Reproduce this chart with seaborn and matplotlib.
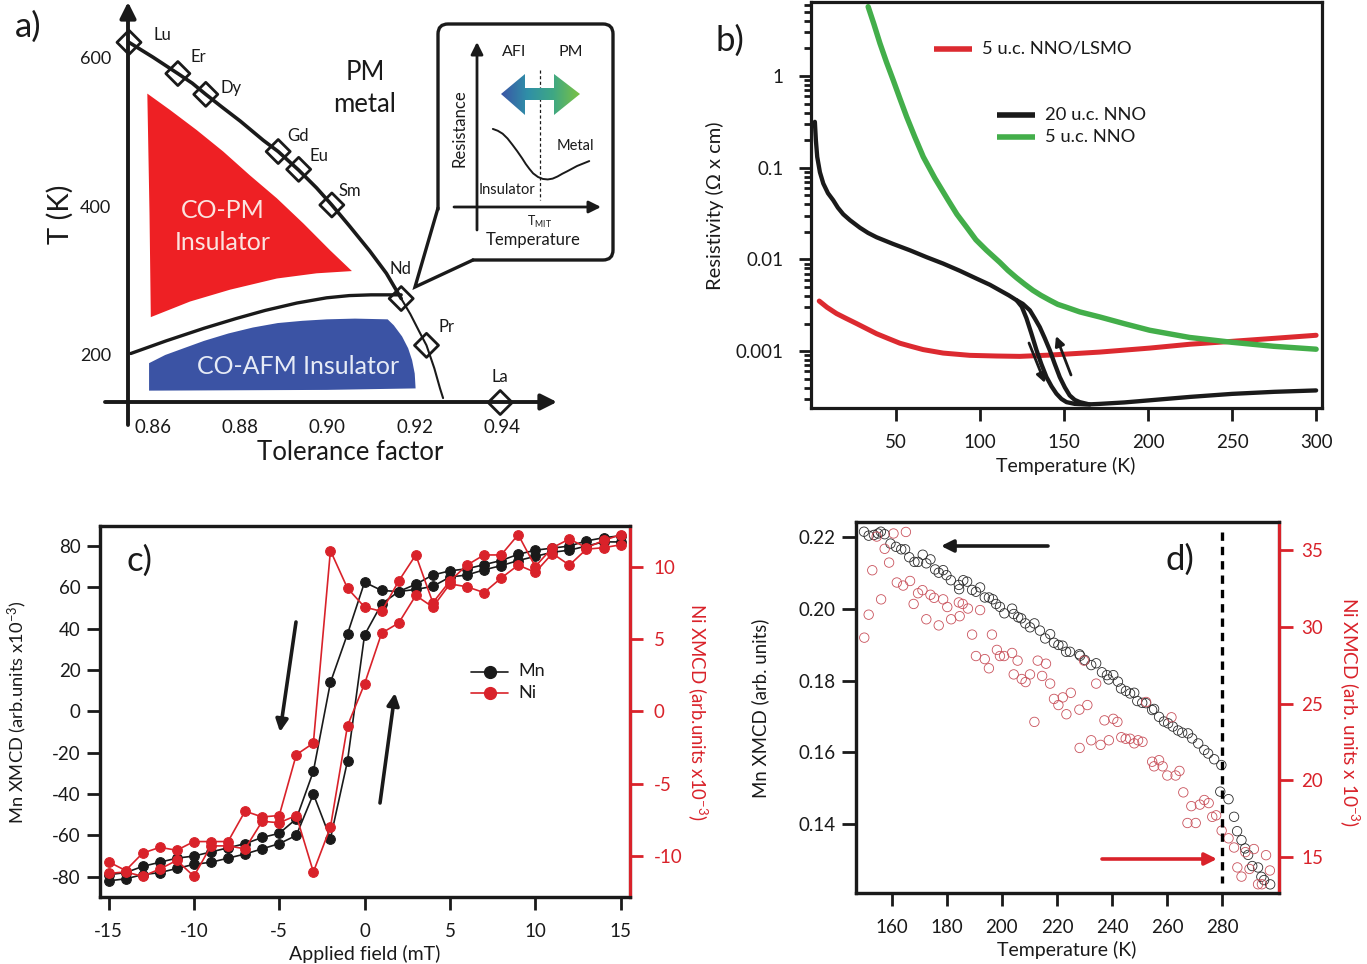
import numpy as np
import matplotlib
matplotlib.use('Agg')
import matplotlib.pyplot as plt
import seaborn as sns
from matplotlib.patches import FancyBboxPatch, Polygon
from matplotlib.ticker import NullFormatter, LogLocator

W, H = 1367, 964

# panel a: phase diagram
element_names = ['Lu', 'Er', 'Dy', 'Gd', 'Eu', 'Sm', 'Nd', 'Pr', 'La']
element_tf = [0.8545, 0.8657, 0.8721, 0.8887, 0.8934, 0.9010, 0.9169, 0.9227, 0.9396]
element_t = [621, 579, 551, 474, 450, 402, 276, 213, 136]
tn_tf = [0.8545, 0.8600, 0.8657, 0.8690, 0.8721, 0.8760, 0.8800, 0.8853, 0.8887, 0.8934, 0.8975, 0.9010, 0.9050, 0.9097, 0.9135, 0.9169]
tn_t = [621, 601, 579, 566, 551, 533, 515, 489, 474, 449, 425, 402, 374, 340, 310, 276]
tn_low_tf = [0.9169, 0.9190, 0.9210, 0.9227, 0.9245, 0.9258, 0.9265]
tn_low_t = [276, 255, 232, 213, 182, 155, 142]
afm_tf = [0.8549, 0.8630, 0.8717, 0.8790, 0.8857, 0.8930, 0.8998, 0.9050, 0.9100, 0.9169]
afm_t = [202, 219, 236, 249, 260, 270, 277, 280, 281, 281]
red_tf = [0.8587, 0.8639, 0.8700, 0.8761, 0.8822, 0.8884, 0.8945, 0.9006, 0.9056, 0.8975, 0.8884, 0.8777, 0.8685, 0.8595, 0.8592]
red_t = [552, 530, 503, 474, 442, 411, 377, 341, 313, 310, 303, 288, 272, 251, 391]
blue_tf = [0.8591, 0.8628, 0.8670, 0.8717, 0.8773, 0.8829, 0.8886, 0.8942, 0.8998, 0.9063, 0.9138, 0.9152, 0.9171, 0.9185, 0.9194, 0.9200, 0.9202, 0.8998, 0.8591]
blue_t = [189, 200, 209, 219, 229, 237, 243, 246, 248, 249, 248, 240, 225, 209, 193, 175, 155, 153, 152]
inset_temp = [0.13, 0.17, 0.21, 0.25, 0.29, 0.33, 0.37, 0.40, 0.43, 0.46, 0.50, 0.54, 0.58, 0.62, 0.66, 0.70, 0.74, 0.78, 0.82, 0.86, 0.92]
inset_res = [0.476, 0.465, 0.447, 0.418, 0.380, 0.340, 0.297, 0.262, 0.232, 0.205, 0.183, 0.171, 0.168, 0.173, 0.186, 0.203, 0.218, 0.234, 0.250, 0.262, 0.280]

# panel b: resistivity
nno20_cool_t = [1.8, 2.4, 3.2, 4.8, 6.8, 9.6, 12.7, 15.5, 18.7, 22.7, 28.6, 33.4, 38.5, 48.2, 58.3, 68.4, 78.1, 88, 98, 105.9, 111.8, 117.2, 121.8, 124.9, 127.7, 130.6,
                133.7, 136.6, 139.6, 142.6, 145.5, 148.5, 151.5, 156.4, 163.4, 171.3, 186, 200, 225, 250, 275, 300]
nno20_cool_r = [.317, .200, .1315, .0895, .0674, .0528, .0443, .0367, .0311, .0268, .0222, .0195, .01747, .0148, .0126, .01057, .00902, .00753, .00618, .00530, .00461, .00406, .00359, .00305, .00228, .00156,
                .00102, .000718, .000521, .000413, .000344, .000301, .000278, .000266, .000262, .000266, .000276, .00029, .000317, .000342, .00036, .000373]
nno20_warm_t = [121.8, 125.5, 129.7, 132.6, 135.6, 138.6, 141.6, 144.5, 147.5, 150.5, 153.4, 156.4, 159.4, 165.3]
nno20_warm_r = [.00359, .00328, .00279, .00228, .00183, .00138, .00102, .000726, .000521, .000403, .000329, .000294, .000278, .000262]
nno5_t = [33.5, 36.9, 40.5, 44.4, 48.4, 52.4, 56.4, 61.3, 66.3, 73.2, 81.1, 86.3, 92, 97.6, 103.9, 111.8, 116.6, 121.8, 126.7, 131.5, 136.3, 141.6, 146.3, 151.5, 159.4, 171.3, 186.1, 201, 224.8, 249.8, 274.7, 300]
nno5_r = [5.71, 3.70, 2.28, 1.42, .904, .568, .360, .216, .1315, .0769, .0443, .0311, .0226, .0164, .0126, .00931, .00762, .00631, .00536, .00461, .00406, .00359, .00324, .00301, .00268, .00236, .00199, .00169, .00141, .00125, .00113, .00105]
nno_lsmo_t = [4.4, 9, 14.7, 20.3, 26.6, 38.5, 45.2, 52.4, 58.9, 66.2, 78.1, 94, 109.9, 123.7, 141.6, 171.3, 201, 225, 250, 275, 300]
nno_lsmo_r = [.00352, .00301, .00257, .00228, .002, .00155, .00138, .00122, .00113, .00104, .000953, .0009, .000885, .000877, .000906, .000977, .00108, .00119, .00128, .00138, .00149]

# panel c: hysteresis loops
field = list(range(-15, 16))
mn_down = [-79, -78, -75, -73, -71, -70, -68, -66, -64, -61, -59, -52, -29, 14, 37.5, 62.5, 58.5, 58, 61.5, 66, 68, 69, 71, 73, 76, 78, 79, 80, 82.5, 84, 85]
mn_up = [-82, -81, -79, -78, -76, -74, -73, -71, -69, -66.5, -64, -60, -40, -61.5, -24, 37, 52, 58, 59, 60.5, 65, 66, 68.5, 70.5, 73, 75, 77, 78, 80, 82, 82]
ni_down = [-10.4, -11, -9.8, -9.4, -9.6, -9, -9, -9, -6.9, -7.3, -7.2, -3, -2.2, 11.1, 8.5, 7.2, 6.9, 9, 10.8, 7.5, 9, 10.1, 10.8, 10.8, 12.2, 10, 11.3, 11.9, 11.3, 11.8, 12.2]
ni_up = [-11.2, -11.1, -11.4, -10.9, -10.3, -11.4, -9.3, -9.3, -9.5, -7.6, -7.7, -7.2, -11.1, -8, -1, 1.9, 5.4, 6.1, 8, 7.2, 8.8, 8.6, 8.2, 9.2, 10.1, 9.6, 10.9, 10.1, 11.2, 11.3, 11.5]

# panel d: XMCD against temperature
mn_temp = [150.0, 151.7, 153.6, 155.1, 156.1, 157.5, 159.6, 161.6, 163.5, 164.9, 166.4, 168.3, 169.6, 171.3, 172.6, 174.1, 175.8, 177.1, 178.7, 179.9,
           181.5, 184.4, 184.5, 186.0, 187.4, 189.2, 190.6, 192.1, 193.8, 195.3, 196.7, 197.9, 199.3, 200.9, 203.7, 204.3, 205.9, 207.0, 208.5, 210.2,
           211.8, 213.8, 215.7, 217.5, 218.9, 220.5, 222.0, 223.3, 224.7, 228.1, 228.4, 230.1, 232.4, 234.2, 236.3, 238.1, 238.7, 240.4, 242.1, 243.2,
           245.0, 246.5, 248.0, 249.1, 250.9, 252.3, 254.5, 255.2, 257.0, 258.8, 260.3, 262.0, 263.9, 265.4, 267.5, 269.0, 271.2, 273.4, 274.8, 277.0,
           279.6, 279.2, 282.2, 284.2, 285.3, 286.9, 288.2, 289.3, 290.8, 292.9, 294.1, 295.1, 297.3]
mn_xmcd = [.2214, .2203, .2205, .2209, .2214, .2207, .2181, .2172, .2165, .2165, .2143, .2130, .2130, .2150, .2126, .2137, .2109, .2100, .2107, .2093,
           .2079, .2066, .2054, .2079, .2075, .2052, .2047, .2059, .2031, .2031, .2026, .2013, .2005, .1987, .2000, .1985, .1976, .1973, .1959, .1948,
           .1959, .1939, .1917, .1929, .1905, .1899, .1897, .1880, .1880, .1873, .1869, .1857, .1843, .1848, .1823, .1815, .1803, .1815, .1797, .1778,
           .1771, .1764, .1766, .1743, .1738, .1737, .1718, .1721, .1699, .1686, .1681, .1672, .1661, .1655, .1653, .1639, .1625, .1607, .1597, .1581,
           .1565, .1491, .1470, .1421, .1381, .1356, .1333, .1315, .1284, .1280, .1254, .1245, .1233]
ni_temp = [150.1, 151.7, 153.0, 154.6, 156.2, 157.5, 159.1, 160.7, 161.9, 164.2, 165.2, 166.7, 168.0, 169.6, 171.2, 172.6, 174.1, 175.4, 177.1, 178.7,
           180.2, 181.6, 184.4, 184.7, 185.8, 187.7, 189.2, 190.6, 192.1, 193.8, 195.3, 196.4, 198.2, 199.3, 200.8, 203.7, 204.3, 205.7, 207.2, 208.6,
           210.2, 211.8, 213.0, 214.6, 216.0, 217.5, 218.9, 220.5, 222.1, 223.4, 225.0, 228.1, 228.2, 231.0, 229.8, 232.4, 234.2, 235.8, 237.2, 238.8,
           240.4, 241.9, 243.3, 244.9, 246.5, 248.0, 249.4, 251.0, 252.3, 254.5, 255.2, 257.0, 258.3, 260.0, 261.5, 263.0, 264.4, 265.8, 267.3, 268.7,
           270.3, 271.8, 273.4, 275.0, 276.3, 277.7, 279.7, 282.2, 284.2, 285.4, 286.9, 288.3, 289.8, 291.4, 292.9, 294.3, 295.8, 297.2]
ni_xmcd = [29.3, 30.8, 33.7, 35.9, 31.8, 35.1, 34.2, 36.1, 32.9, 32.7, 36.2, 33.0, 31.5, 32.2, 32.4, 30.5, 32.1, 31.9, 30.1, 31.8,
           31.3, 30.5, 31.6, 30.7, 31.5, 31.2, 29.5, 28.1, 31.1, 27.9, 27.3, 29.5, 28.5, 28.1, 28.1, 28.3, 26.9, 27.8, 26.6, 26.4,
           26.9, 23.8, 27.8, 26.8, 27.6, 26.3, 25.3, 24.9, 25.4, 24.3, 25.7, 24.6, 22.1, 24.9, 27.8, 22.6, 26.3, 22.3, 23.9, 22.6,
           24.0, 23.8, 22.8, 22.7, 22.7, 22.4, 22.6, 22.5, 25.1, 21.2, 20.9, 21.3, 20.9, 20.3, 24.1, 20.3, 20.6, 19.2, 17.2, 18.3,
           17.2, 18.4, 18.7, 18.5, 17.6, 17.7, 16.7, 16.2, 15.6, 14.3, 13.7, 15.3, 14.2, 15.5, 13.2, 13.2, 15.1, 14.1]

BLACK = '#1a1a1a'
RED = '#d9222a'
LINE_RED = '#dc2a30'
GREEN = '#43ae4a'
CIRCLE_RED = '#c9525c'
CO_RED = '#ee2024'
CO_BLUE = '#3b53a4'

sns.set_theme(style='ticks')
plt.rcParams['font.family'] = ['Lato', 'DejaVu Sans']
plt.rcParams['axes.unicode_minus'] = False
plt.rcParams['mathtext.default'] = 'regular'
plt.rcParams['text.color'] = BLACK
plt.rcParams['axes.labelcolor'] = BLACK
plt.rcParams['xtick.color'] = BLACK
plt.rcParams['ytick.color'] = BLACK

fig = plt.figure(figsize=(W / 100, H / 100), dpi=100, facecolor='white')


def px_axes(left, top, right, bottom, **kw):
    """Axes placed by picture pixels"""
    return fig.add_axes([left / W, 1 - bottom / H, (right - left) / W, (bottom - top) / H], **kw)


def line(ax, x, y, color, lw, **kw):
    sns.lineplot(x=x, y=y, ax=ax, color=color, linewidth=lw, sort=False, estimator=None, legend=False, **kw)


def open_markers(ax, x, y, marker, size, edge, lw):
    sns.scatterplot(x=x, y=y, ax=ax, marker=marker, s=size, color=edge, edgecolor=edge, linewidth=lw, legend=False)
    ax.collections[-1].set_facecolor('none')


# layer in picture pixels for labels, arrows and the callout
ov = fig.add_axes([0, 0, 1, 1], zorder=10)
ov.set_xlim(0, W)
ov.set_ylim(H, 0)
ov.axis('off')
ov.patch.set_alpha(0)


def arrow(x0, y0, x1, y1, color=BLACK, lw=2.4, scale=20):
    ov.annotate('', xy=(x1, y1), xytext=(x0, y0),
                arrowprops=dict(arrowstyle='-|>', color=color, lw=lw, mutation_scale=scale, shrinkA=0, shrinkB=0))


def label(axis, x, y):
    # x, y is the centre of the label
    axis.label.set_verticalalignment('center')
    axis.set_label_coords(x, y, transform=ov.transData)


# ---- a) phase diagram
ax_a = px_axes(128, 3, 555, 402)
ax_a.set_xlim(0.85427, 0.95216)
ax_a.set_ylim(136.7, 674)
sns.despine(ax=ax_a, left=True, bottom=True)
ax_a.fill(red_tf, red_t, color=CO_RED, lw=0)
ax_a.fill(blue_tf, blue_t, color=CO_BLUE, lw=0)
line(ax_a, tn_tf, tn_t, BLACK, 2.6)
line(ax_a, tn_low_tf, tn_low_t, BLACK, 1.5)
line(ax_a, afm_tf, afm_t, BLACK, 2.4)
open_markers(ax_a, element_tf, element_t, 'D', 150, BLACK, 2)
ax_a.collections[-1].set_clip_on(False)
ax_a.set_xticks([0.86, 0.88, 0.90, 0.92, 0.94], ['0.86', '0.88', '0.90', '0.92', '0.94'])
ax_a.set_yticks([200, 400, 600], ['200', '400', '600'])
ax_a.tick_params(axis='x', length=0, pad=12, labelsize=13.5)
ax_a.tick_params(axis='y', length=0, pad=12, labelsize=13)
ax_a.set_xlabel('Tolerance factor', fontsize=18.5)
ax_a.set_ylabel('T (K)', fontsize=21)
label(ax_a.xaxis, 350, 453)
label(ax_a.yaxis, 60, 214)
arrow(128, 425, 128, 2, lw=2.8, scale=24)
arrow(105, 402, 557, 402, lw=2.8, scale=24)

element_labels = {'Lu': (162, 35), 'Er': (198, 57), 'Dy': (231, 88), 'Gd': (298, 136), 'Eu': (319, 156),
                  'Sm': (350, 191), 'Nd': (400, 269), 'Pr': (446, 327), 'La': (500, 377)}
for name in element_names:
    ov.text(*element_labels[name], name, fontsize=12, ha='center', va='center')
ov.text(365, 72, 'PM', fontsize=18.5, ha='center', va='center')
ov.text(365, 104, 'metal', fontsize=18.5, ha='center', va='center')
ov.text(223, 211, 'CO-PM', fontsize=18, color='#fbe3df', ha='center', va='center')
ov.text(223, 243, 'Insulator', fontsize=18, color='#fbe3df', ha='center', va='center')
ov.text(298, 366, 'CO-AFM Insulator', fontsize=18, color='#e6ebf6', ha='center', va='center')

# callout
ov.add_patch(FancyBboxPatch((444, 30), 163, 224, boxstyle='round,pad=6,rounding_size=10',
                            fc='white', ec=BLACK, lw=2.4))
ov.add_patch(Polygon([(438, 208), (415, 287), (473, 260)], closed=True, fc='white', ec='none'))
ov.plot([438, 415, 473], [208, 287, 260], color=BLACK, lw=2.4, solid_joinstyle='miter')
arrow(477, 230, 477, 42, lw=2, scale=18)
arrow(454, 207, 601, 207, lw=2, scale=18)
ov.plot([540, 540], [70, 200], color=BLACK, lw=0.9, ls=(0, (2.5, 2)))
grad = np.linspace(0, 1, 256).reshape(1, -1)
cmap = matplotlib.colors.LinearSegmentedColormap.from_list('afi_pm', ['#3b55a5', '#2f8fa8', '#3fa883', '#7cc242'])
im = ov.imshow(grad, extent=(501, 580, 115, 74), cmap=cmap, aspect='auto', zorder=2)
im.set_clip_path(Polygon([(501, 94), (525, 74), (525, 88), (554, 88), (554, 74), (580, 94), (554, 115),
                          (554, 100), (525, 100), (525, 115)], closed=True, transform=ov.transData))
ov.set_xlim(0, W)
ov.set_ylim(H, 0)
ov.text(514, 52, 'AFI', fontsize=11.5, ha='center', va='center')
ov.text(571, 52, 'PM', fontsize=11.5, ha='center', va='center')
ov.text(460, 128, 'Resistance', fontsize=12, rotation=90, ha='center', va='center')
ov.text(575, 146, 'Metal', fontsize=10.5, ha='center', va='center')
ov.text(507, 190, 'Insulator', fontsize=10.5, ha='center', va='center')
ov.text(539.5, 222, 'T$_{MIT}$', fontsize=9, ha='center', va='center')
ov.text(533, 240, 'Temperature', fontsize=12, ha='center', va='center')

ax_in = px_axes(477, 43, 599, 207, zorder=11)
ax_in.set_xlim(0, 1)
ax_in.set_ylim(0, 1)
ax_in.axis('off')
line(ax_in, inset_temp, inset_res, BLACK, 1.4)

# ---- b) resistivity
ax_b = px_axes(811, 2, 1322, 408)
ax_b.set_yscale('log')
ax_b.set_xlim(-0.5, 303.5)
ax_b.set_ylim(10 ** -3.62, 10 ** 0.808)
line(ax_b, nno_lsmo_t, nno_lsmo_r, LINE_RED, 3.6)
line(ax_b, nno5_t, nno5_r, GREEN, 3.9)
line(ax_b, nno20_cool_t, nno20_cool_r, BLACK, 3.1)
line(ax_b, nno20_warm_t, nno20_warm_r, BLACK, 3.1)
ax_b.set_xticks([50, 100, 150, 200, 250, 300], ['50', '100', '150', '200', '250', '300'])
ax_b.set_yticks([0.001, 0.01, 0.1, 1], ['0.001', '0.01', '0.1', '1'])
ax_b.yaxis.set_minor_locator(LogLocator(base=10, subs=np.arange(2, 10) * 0.1, numticks=12))
ax_b.yaxis.set_minor_formatter(NullFormatter())
ax_b.tick_params(axis='x', which='major', length=9, width=2, labelsize=13.5, pad=10)
ax_b.tick_params(axis='y', which='major', length=8.5, width=2, labelsize=13.5, pad=11)
ax_b.tick_params(axis='y', which='minor', length=5, width=2)
ax_b.set_xlabel('Temperature (K)', fontsize=14)
ax_b.set_ylabel('Resistivity (Ω x cm)', fontsize=14.5)
label(ax_b.xaxis, 1066, 466)
label(ax_b.yaxis, 715, 206)
arrow(1029, 343, 1045, 383, lw=2, scale=14)
arrow(1071, 375, 1056, 336, lw=2, scale=14)
ov.plot([934, 972], [49, 49], color=LINE_RED, lw=4, solid_capstyle='butt')
ov.plot([997, 1035], [115, 115], color=BLACK, lw=4, solid_capstyle='butt')
ov.plot([997, 1035], [137, 137], color=GREEN, lw=4, solid_capstyle='butt')
ov.text(982, 49, '5 u.c. NNO/LSMO', fontsize=13.2, va='center')
ov.text(1045, 115, '20 u.c. NNO', fontsize=13.2, va='center')
ov.text(1045, 137, '5 u.c. NNO', fontsize=13.2, va='center')

# ---- c) hysteresis
ax_c = px_axes(100, 526, 630, 897)
ax_c.set_xlim(-15.5, 15.55)
ax_c.set_ylim(-89.8, 89.7)
for branch in (mn_down, mn_up):
    line(ax_c, field, branch, BLACK, 1.2, marker='o', markersize=7, markeredgecolor=BLACK)
ax_c.set_xticks([-15, -10, -5, 0, 5, 10, 15], ['-15', '-10', '-5', '0', '5', '10', '15'])
ax_c.set_yticks(range(-80, 81, 20), [str(v) for v in range(-80, 81, 20)])
ax_c.tick_params(axis='x', length=9, width=2, labelsize=13.5, pad=10)
ax_c.tick_params(axis='y', length=9.5, width=2, labelsize=13.5, pad=4.5)
ax_c.set_xlabel('Applied field (mT)', fontsize=14)
ax_c.set_ylabel('Mn XMCD (arb.units x10$^{-3}$)', fontsize=13.2)
label(ax_c.xaxis, 365, 954)
label(ax_c.yaxis, 17, 712)

ax_c2 = ax_c.twinx()
ax_c2.set_ylim(-12.83, 12.8)
for branch in (ni_down, ni_up):
    line(ax_c2, field, branch, RED, 1.2, marker='o', markersize=7, markeredgecolor=RED)
ax_c2.set_yticks([-10, -5, 0, 5, 10], ['-10', '-5', '0', '5', '10'])
ax_c2.tick_params(axis='y', colors=RED, length=9, width=2, labelsize=13.5, pad=8)
ax_c2.set_ylabel('Ni XMCD (arb.units x10$^{-3}$)', fontsize=13.4, color=RED, rotation=-90)
label(ax_c2.yaxis, 698, 712)
arrow(296, 622, 280, 732, lw=2.6, scale=18)
arrow(380, 803, 395, 693, lw=2.6, scale=18)
ov.plot([471, 508], [672, 672], color=BLACK, lw=1.2)
ov.plot([471, 508], [693, 693], color=RED, lw=1.2)
ov.plot([489.5], [672], 'o', color=BLACK, ms=8.5)
ov.plot([489.5], [693], 'o', color=RED, ms=8.5)
ov.text(518, 671, 'Mn', fontsize=13, va='center')
ov.text(518, 693, 'Ni', fontsize=13, va='center')

# ---- d) XMCD against temperature
ax_d = px_axes(856, 522, 1279, 893)
ax_d.set_xlim(147.1, 300.5)
ax_d.set_ylim(0.1209, 0.2241)
open_markers(ax_d, mn_temp, mn_xmcd, 'o', 46, '#2b2b2b', 0.6)
ax_d.set_xticks(range(160, 281, 20), [str(v) for v in range(160, 281, 20)])
ax_d.set_yticks([0.14, 0.16, 0.18, 0.20, 0.22], ['0.14', '0.16', '0.18', '0.20', '0.22'])
ax_d.tick_params(axis='x', length=9, width=2, labelsize=13.5, pad=10)
ax_d.tick_params(axis='y', length=10, width=2, labelsize=13.5, pad=5)
ax_d.set_xlabel('Temperature (K)', fontsize=14)
ax_d.set_ylabel('Mn XMCD (arb. units)', fontsize=13.4)
label(ax_d.xaxis, 1067, 950)
label(ax_d.yaxis, 760, 708)

ax_d2 = ax_d.twinx()
ax_d2.set_ylim(12.63, 36.85)
open_markers(ax_d2, ni_temp, ni_xmcd, 'o', 46, CIRCLE_RED, 0.6)
ax_d2.set_yticks([15, 20, 25, 30, 35], ['15', '20', '25', '30', '35'])
ax_d2.tick_params(axis='y', colors=RED, length=10, width=2, labelsize=13.5, pad=6)
ax_d2.set_ylabel('Ni XMCD (arb. units x 10$^{-3}$)', fontsize=13.6, color=RED, rotation=-90)
label(ax_d2.yaxis, 1350, 712)
ov.plot([1221.5, 1221.5], [532, 883], color='black', lw=2.4, ls=(0, (2.5, 1.8)))
arrow(1048, 546, 941, 546, lw=2.6, scale=18)
arrow(1102, 859, 1217, 859, color=RED, lw=2.6, scale=18)

# frames
for ax in (ax_b, ax_c, ax_d, ax_c2, ax_d2):
    for spine in ax.spines.values():
        spine.set_linewidth(2.3)
        spine.set_color(BLACK)
for ax in (ax_c2, ax_d2):
    ax.spines['right'].set_color(RED)

ov.text(28, 27, 'a)', fontsize=25, ha='center', va='center')
ov.text(730, 41, 'b)', fontsize=25, ha='center', va='center')
ov.text(140, 561, 'c)', fontsize=25, ha='center', va='center')
ov.text(1180, 560, 'd)', fontsize=25, ha='center', va='center')

fig.savefig('out.png', dpi=100, facecolor='white')
